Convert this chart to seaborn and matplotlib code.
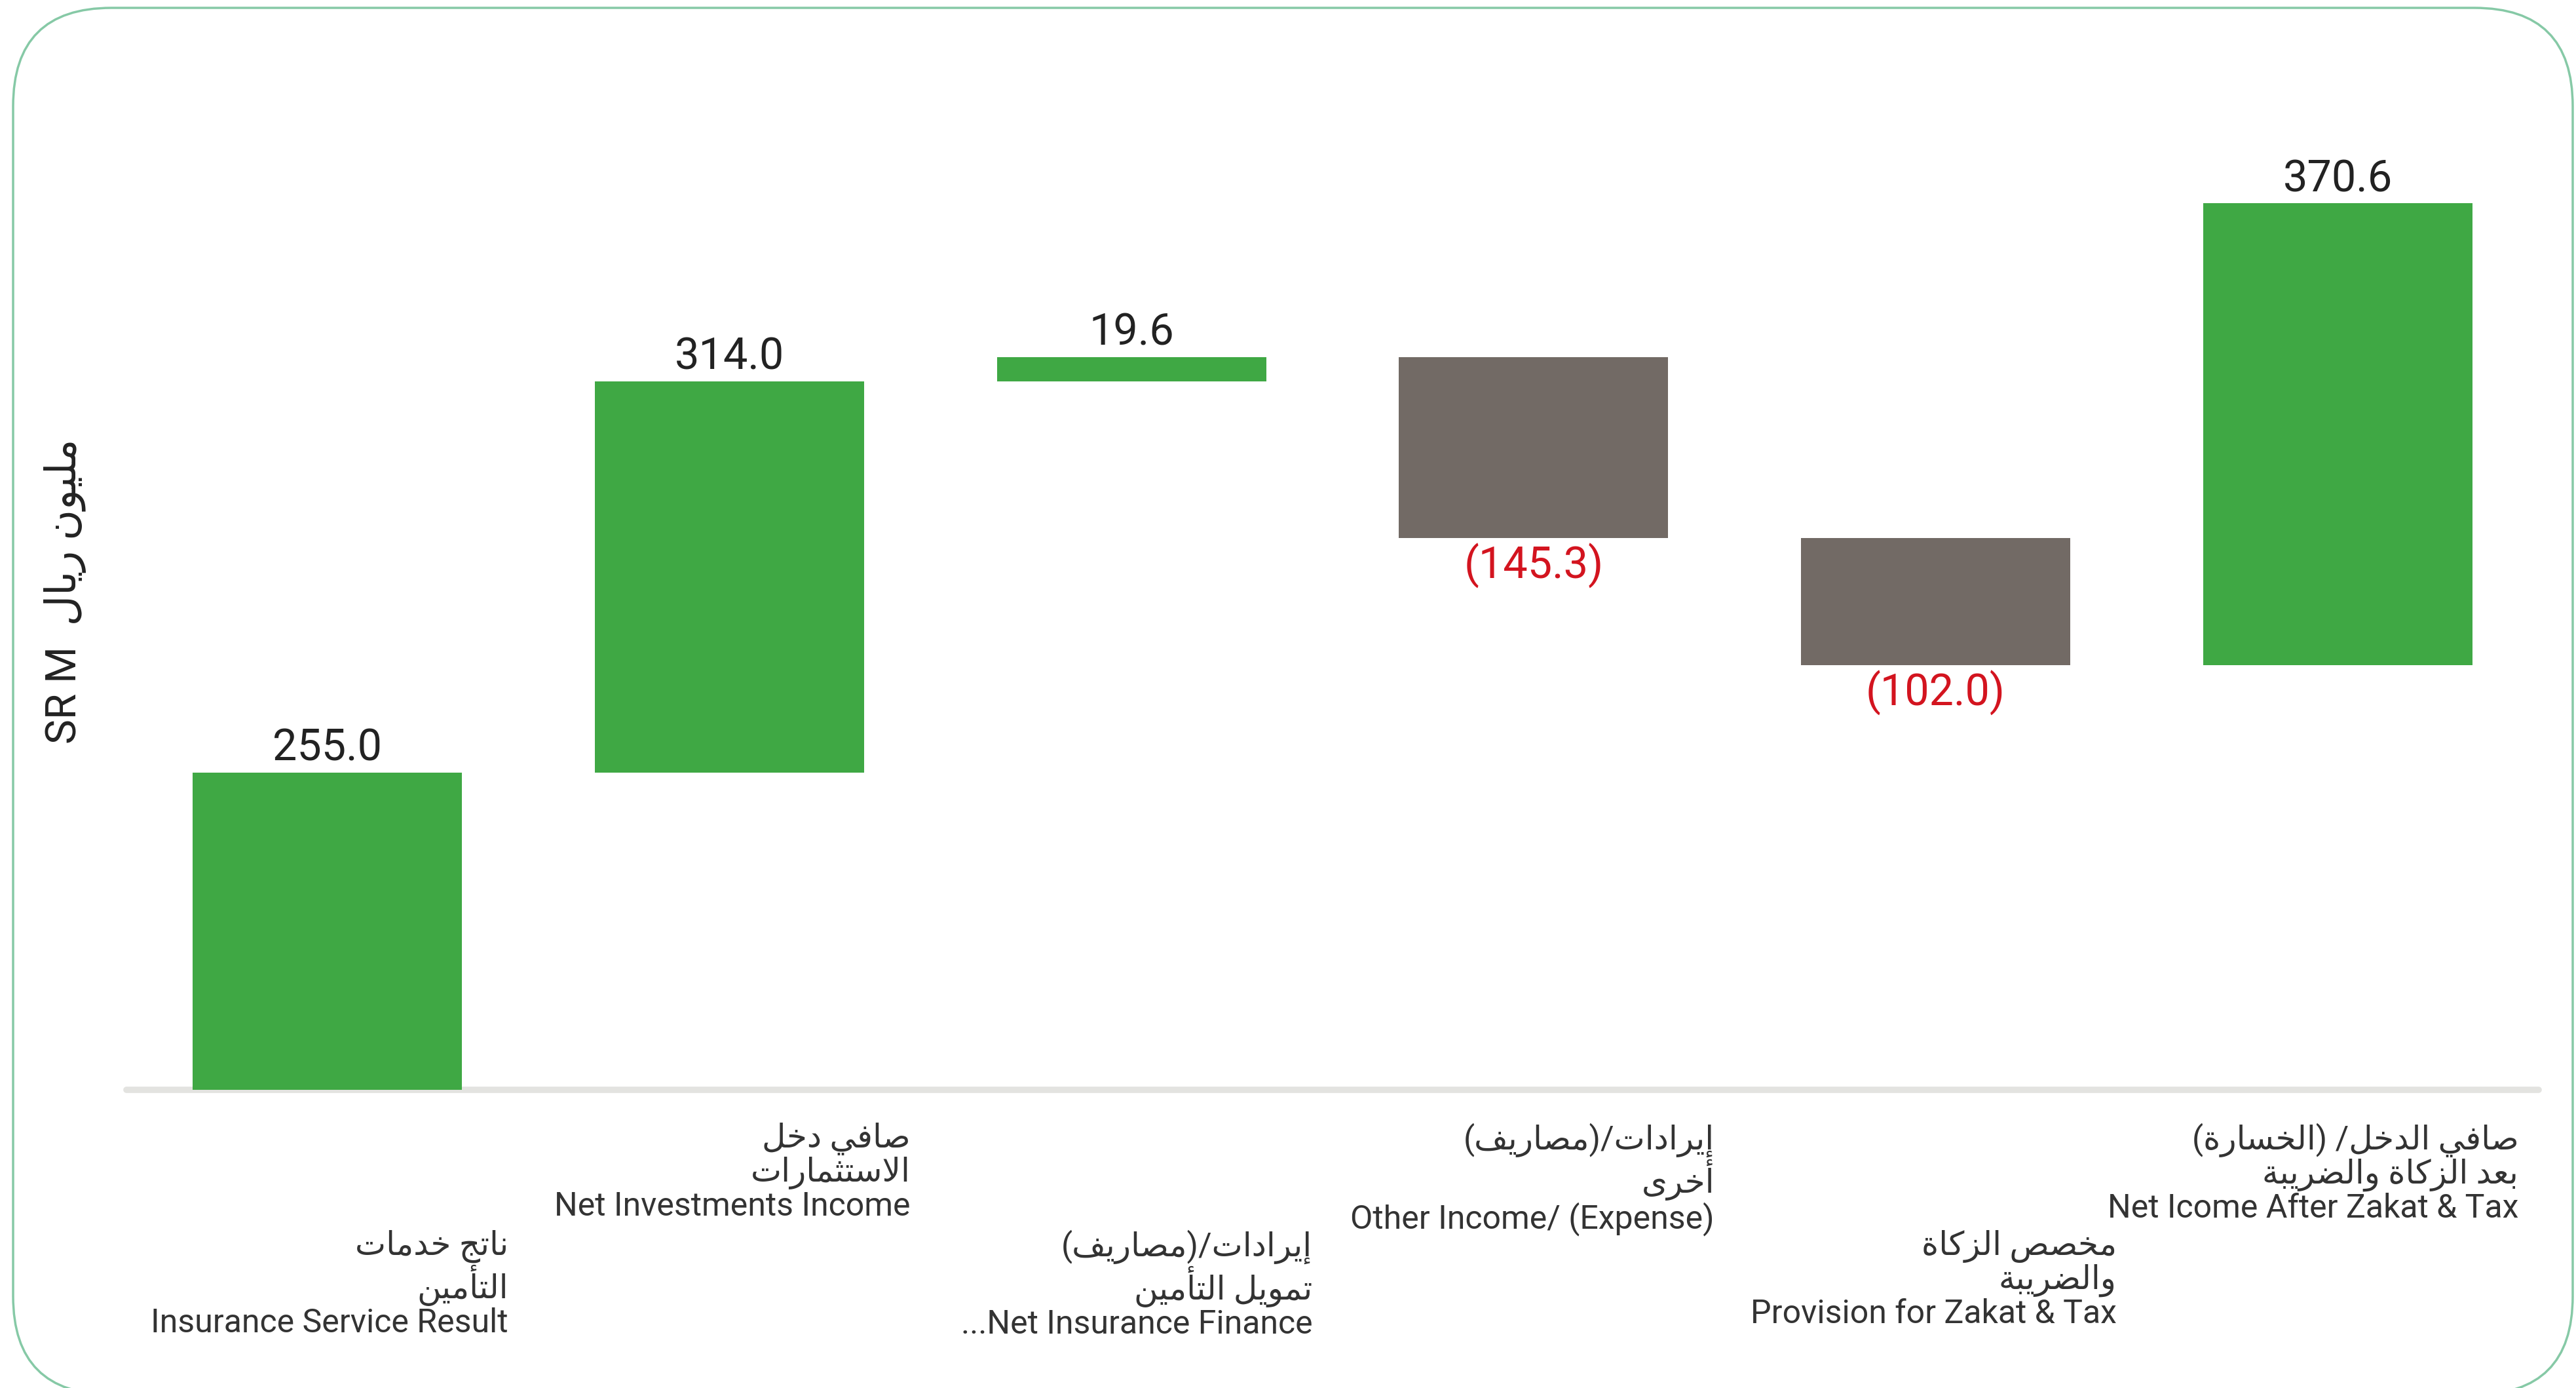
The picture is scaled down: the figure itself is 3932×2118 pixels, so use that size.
import numpy as np
import matplotlib
matplotlib.use("Agg")
import matplotlib.pyplot as plt
import matplotlib.transforms as mtransforms
from matplotlib.patches import FancyBboxPatch
import seaborn as sns

# ==========================================
# DATA
# ==========================================

categories = [
    "Insurance Service Result",
    "Net Investments Income",
    "Net Insurance Finance",
    "Other Income/ (Expense)",
    "Provision for Zakat & Tax",
    "Net Icome After Zakat & Tax",
]
values = [255.0, 314.0, 19.6, -145.3, -102.0, 370.6]

label_ar = [
    ["ناتج خدمات", "التأمين"],
    ["صافي دخل", "الاستثمارات"],
    ["إيرادات/(مصاريف)", "تمويل التأمين"],
    ["إيرادات/(مصاريف)", "أخرى"],
    ["مخصص الزكاة", "والضريبة"],
    ["صافي الدخل/ (الخسارة)", "بعد الزكاة والضريبة"],
]
label_en = [
    "Insurance Service Result",
    "Net Investments Income",
    "...Net Insurance Finance",
    "Other Income/ (Expense)",
    "Provision for Zakat & Tax",
    "Net Icome After Zakat & Tax",
]
ylabel_en = "SR M"
ylabel_ar = "مليون ريال"

GREEN = "#3fa844"
GREY = "#726a65"
RED = "#d3141f"

# ==========================================
# ARABIC SHAPING (matplotlib has no bidi / joining)
# ==========================================

AR_FORMS = {
    'ا': (0xFE8D, 2), 'أ': (0xFE83, 2), 'إ': (0xFE87, 2), 'آ': (0xFE81, 2),
    'ب': (0xFE8F, 4), 'ة': (0xFE93, 2), 'ت': (0xFE95, 4), 'ث': (0xFE99, 4),
    'ج': (0xFE9D, 4), 'ح': (0xFEA1, 4), 'خ': (0xFEA5, 4), 'د': (0xFEA9, 2),
    'ذ': (0xFEAB, 2), 'ر': (0xFEAD, 2), 'ز': (0xFEAF, 2), 'س': (0xFEB1, 4),
    'ش': (0xFEB5, 4), 'ص': (0xFEB9, 4), 'ض': (0xFEBD, 4), 'ط': (0xFEC1, 4),
    'ظ': (0xFEC5, 4), 'ع': (0xFEC9, 4), 'غ': (0xFECD, 4), 'ف': (0xFED1, 4),
    'ق': (0xFED5, 4), 'ك': (0xFED9, 4), 'ل': (0xFEDD, 4), 'م': (0xFEE1, 4),
    'ن': (0xFEE5, 4), 'ه': (0xFEE9, 4), 'و': (0xFEED, 2), 'ى': (0xFEEF, 2),
    'ي': (0xFEF1, 4),
}
LAM_ALEF = {'ا': 0xFEFB, 'أ': 0xFEF7, 'إ': 0xFEF9, 'آ': 0xFEF5}
MIRROR = {'(': ')', ')': '('}


def shape_arabic(text):
    out = []
    prev_joins = False
    i = 0
    n = len(text)
    while i < n:
        c = text[i]
        if c not in AR_FORMS:
            out.append(MIRROR.get(c, c))
            prev_joins = False
            i += 1
            continue
        if c == 'ل' and i + 1 < n and text[i + 1] in LAM_ALEF:
            out.append(chr(LAM_ALEF[text[i + 1]] + (1 if prev_joins else 0)))
            prev_joins = False
            i += 2
            continue
        base, nforms = AR_FORMS[c]
        next_ok = nforms == 4 and i + 1 < n and text[i + 1] in AR_FORMS
        if prev_joins and next_ok:
            form = 3
        elif prev_joins:
            form = 1
        elif next_ok:
            form = 2
        else:
            form = 0
        out.append(chr(base + form))
        prev_joins = next_ok
        i += 1
    return "".join(reversed(out))


# ==========================================
# FIGURE
# ==========================================

sns.set_style("white")
plt.rcParams['font.family'] = ['Roboto', 'DejaVu Sans']

W, H = 3932, 2118
fig = plt.figure(figsize=(W / 100, H / 100), dpi=100)
fig.patch.set_facecolor("white")

ax = fig.add_axes([193 / W, 455 / H, (3875 - 193) / W, 1520 / H])

bottoms = np.concatenate([[0.0], np.cumsum(values)[:-1]])

sns.barplot(
    x=categories,
    y=values,
    bottom=bottoms,
    width=0.67,
    errorbar=None,
    color=GREEN,
    saturation=1,
    ax=ax,
)

for patch, v in zip(ax.patches, values):
    patch.set_facecolor(GREEN if v > 0 else GREY)
    patch.set_edgecolor("none")

ax.set_xlim(-0.5, len(values) - 0.5)
ax.set_ylim(0, 800)
ax.set_xticks([])
ax.set_yticks([])
ax.set_xlabel("")
ax.set_ylabel("")
sns.despine(ax=ax, left=True, bottom=True)
ax.axhline(0, color="#e3e3e0", lw=7, zorder=0, clip_on=False)

# value labels
for i, (b, v) in enumerate(zip(bottoms, values)):
    end = b + v
    if v > 0:
        ax.annotate(f"{v:.1f}", (i, end), xytext=(0, 13), textcoords="offset points",
                    ha="center", va="baseline", fontsize=48, color="#222222")
    else:
        ax.annotate(f"({abs(v):.1f})", (i, end), xytext=(0, -6), textcoords="offset points",
                    ha="center", va="top", fontsize=48, color=RED)

# category labels, staggered
trans = mtransforms.blended_transform_factory(ax.transData, fig.transFigure)
for i in range(len(categories)):
    lines = [shape_arabic(s) for s in label_ar[i]] + [label_en[i]]
    y_top = 0.191 if i % 2 == 1 else 0.114
    ax.text(i + 0.45, y_top, "\n".join(lines), transform=trans,
            ha="right", va="top", multialignment="right",
            fontsize=36, color="#333333", linespacing=1.05, clip_on=False)

# y label
fig.text(0.0254, 0.574, ylabel_en + "  " + shape_arabic(ylabel_ar),
         rotation=90, ha="center", va="center", fontsize=46, color="#222222")

# rounded frame
frame = FancyBboxPatch((0.2, -0.1), 39.07, 21.18 - 0.1 + 0.08,
                       boxstyle="round,pad=0,rounding_size=1.5",
                       transform=fig.dpi_scale_trans,
                       facecolor="none", edgecolor="#86c9a6", lw=2.5)
fig.add_artist(frame)

fig.savefig("out.png", dpi=100, facecolor="white")
